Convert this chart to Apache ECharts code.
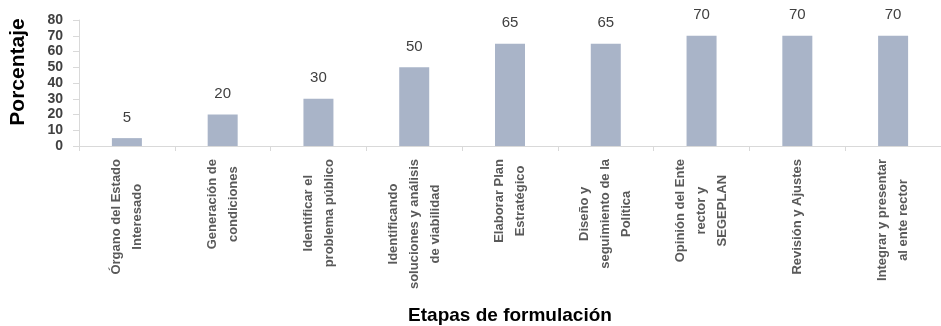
<!DOCTYPE html>
<html>
<head>
<meta charset="utf-8">
<script src="https://cdn.jsdelivr.net/npm/echarts@6/dist/echarts.min.js"></script>
<style>
  html, body { margin: 0; padding: 0; background: #fff; }
  #chart { width: 941px; height: 326px; }
</style>
</head>
<body>
<div id="chart"></div>
<script>
// etapas (etiquetas del eje x, con saltos de linea como en el original)
var etapas = [
    'Órgano del Estado\nInteresado',
    'Generación de\ncondiciones',
    'Identificar el\nproblema público',
    'Identificando\nsoluciones y análisis\nde viabilidad',
    'Elaborar Plan\nEstratégico',
    'Diseño y\nseguimiento de la\nPolítica',
    'Opinión del Ente\nrector y\nSEGEPLAN',
    'Revisión y Ajustes',
    'Integrar y presentar\nal ente rector'
];
var porcentaje = [5, 20, 30, 50, 65, 65, 70, 70, 70];
var yTicks = [0, 10, 20, 30, 40, 50, 60, 70, 80];

var myChart = echarts.init(document.getElementById('chart'));

myChart.setOption({
    animation: false,
    textStyle: {fontFamily: 'Liberation Sans, Arial, sans-serif'},
    grid: {left: 76, top: 20, width: 879, height: 126, containLabel: false},
    xAxis: {
        type: 'category',
        data: etapas,
        name: 'Etapas de formulación',
        nameLocation: 'middle',
        nameGap: 160,
        nameTextStyle: {fontSize: 19, fontWeight: 'bold', color: '#000'},
        axisLine: {lineStyle: {color: '#d9d9d9', width: 1}},
        axisTick: {show: true, length: 5, lineStyle: {color: '#d9d9d9'}},
        axisLabel: {
            rotate: 90,
            interval: 0,
            margin: 13,
            color: '#595959',
            // cada linea centrada dentro del bloque
            formatter: function(value) {
                return value.split('\n').map(function(l) {
                    return '{c|' + l + '}';
                }).join('\n');
            },
            rich: {
                c: {align: 'center', fontSize: 13, fontWeight: 'bold',
                    lineHeight: 21, color: '#595959'}
            }
        }
    },
    yAxis: {
        type: 'value',
        min: yTicks[0],
        max: yTicks[yTicks.length - 1],
        interval: 10,
        name: 'Porcentaje',
        nameLocation: 'middle',
        nameGap: 50,
        nameTextStyle: {fontSize: 21, fontWeight: 'bold', color: '#000', padding: [0, 0, 0, 22]},
        axisLine: {show: true, lineStyle: {color: '#d9d9d9'}},
        axisTick: {show: true, length: 6, lineStyle: {color: '#d9d9d9'}},
        splitLine: {show: false},
        axisLabel: {fontSize: 14, fontWeight: 'bold', color: '#404040', margin: 16}
    },
    series: [{
        type: 'bar',
        data: porcentaje,
        barWidth: 30,
        itemStyle: {color: '#a9b4c8'},
        label: {
            show: true,
            position: 'top',
            distance: 13,
            fontSize: 15,
            color: '#404040'
        }
    }]
});
</script>
</body>
</html>
